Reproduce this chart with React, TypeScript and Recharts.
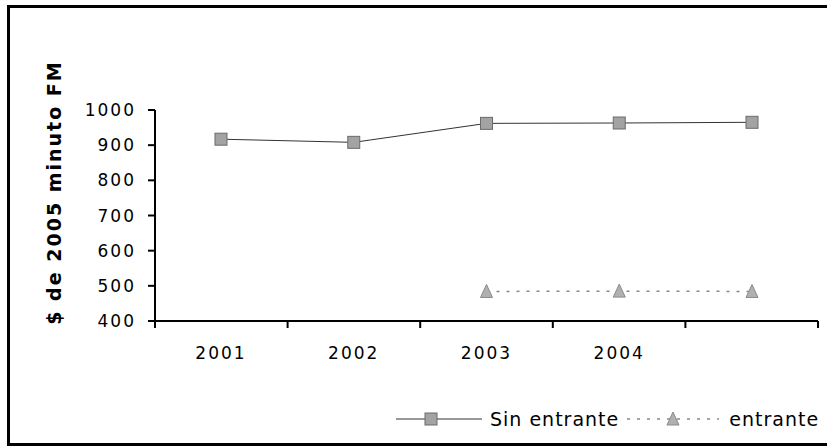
import { LineChart, Line, XAxis, YAxis, Legend, Label } from 'recharts';

// años del eje (la quinta categoria no tiene etiqueta en el original)
const years = ['2001', '2002', '2003', '2004', ''];
const sinEntrante = [917, 908, 962, 963, 965];
const entrante = [null, null, 484, 485, 484];
const yTicks = [400, 500, 600, 700, 800, 900, 1000];
const bounds = [0, 1, 2, 3, 4, 5];

const data = years.map((year, i) => ({ year, sin: sinEntrante[i], ent: entrante[i] }));

const font = '"DejaVu Sans", Verdana, sans-serif';
const tickStyle = { fontSize: 17, fill: '#000', fontFamily: font, letterSpacing: 2 };

const Square = (p: any) => {
  if (p.cx == null || p.value == null) return null;
  return <rect x={p.cx - 6} y={p.cy - 6} width={12} height={12} fill="#a3a3a3" stroke="#6b6b6b" />;
};

const Triangle = (p: any) => {
  if (p.cx == null || p.value == null) return null;
  const { cx, cy } = p;
  return <path d={`M${cx},${cy - 7} L${cx + 6},${cy + 6} L${cx - 6},${cy + 6} Z`} fill="#b0b0b0" stroke="#8a8a8a" />;
};

const LegendContent = () => (
  <div style={{ display: 'flex', alignItems: 'center', fontFamily: font, fontSize: 19, letterSpacing: 1, color: '#000', whiteSpace: 'nowrap' }}>
    <svg width={86} height={20}>
      <line x1={0} y1={10} x2={86} y2={10} stroke="#333" strokeWidth={1} />
      <rect x={29} y={4} width={12} height={12} fill="#a3a3a3" stroke="#6b6b6b" />
    </svg>
    <span style={{ marginLeft: 8 }}>Sin entrante</span>
    <svg width={92} height={20} style={{ marginLeft: 8 }}>
      <line x1={0} y1={10} x2={92} y2={10} stroke="#888" strokeWidth={1.5} strokeDasharray="3 7" />
      <path d="M46,3 L52,16 L40,16 Z" fill="#b0b0b0" stroke="#8a8a8a" />
    </svg>
    <span style={{ marginLeft: 10 }}>entrante</span>
  </div>
);

export default function App() {
  return (
    <div style={{ position: 'absolute', left: 0, top: 0, width: 827, height: 447, overflow: 'hidden', background: '#fff' }}>
      <div style={{ position: 'absolute', left: 7, top: 5, width: 900, height: 441, border: '3px solid #000', boxSizing: 'border-box' }} />
      <LineChart width={827} height={447} data={data} margin={{ top: 110, right: 9, left: 0, bottom: 56 }}>
        {/* eje "a": solo marcas entre categorias, como en Excel */}
        <XAxis
          xAxisId="a"
          type="number"
          dataKey="none"
          domain={[0, bounds.length - 1]}
          ticks={bounds}
          allowDataOverflow
          tickFormatter={() => ''}
          tickSize={7}
          height={8}
          axisLine={{ stroke: '#000', strokeWidth: 2 }}
          tickLine={{ stroke: '#000', strokeWidth: 2 }}
        />
        <XAxis
          xAxisId="b"
          dataKey="year"
          padding={{ left: 66, right: 66 }}
          axisLine={false}
          tickLine={false}
          tick={tickStyle}
          tickMargin={12}
          height={40}
        />
        <YAxis
          domain={[400, 1000]}
          ticks={yTicks}
          width={155}
          tick={tickStyle}
          tickSize={7}
          tickMargin={12}
          axisLine={{ stroke: '#000', strokeWidth: 2 }}
          tickLine={{ stroke: '#000', strokeWidth: 2 }}
        >
          <Label
            value="$ de 2005 minuto FM"
            angle={-90}
            position="center"
            dx={-23}
            dy={-23}
            style={{ fontSize: 19, fontWeight: 'bold', fill: '#000', fontFamily: font, letterSpacing: 2 }}
          />
        </YAxis>
        <Legend content={<LegendContent />} wrapperStyle={{ left: 396, top: 408, width: 440 }} />
        <Line xAxisId="b" dataKey="sin" name="Sin entrante" stroke="#333" strokeWidth={1} dot={<Square />} isAnimationActive={false} />
        <Line xAxisId="b" dataKey="ent" name="entrante" stroke="#888" strokeWidth={1.5} strokeDasharray="3 7" dot={<Triangle />} isAnimationActive={false} />
      </LineChart>
    </div>
  );
}
